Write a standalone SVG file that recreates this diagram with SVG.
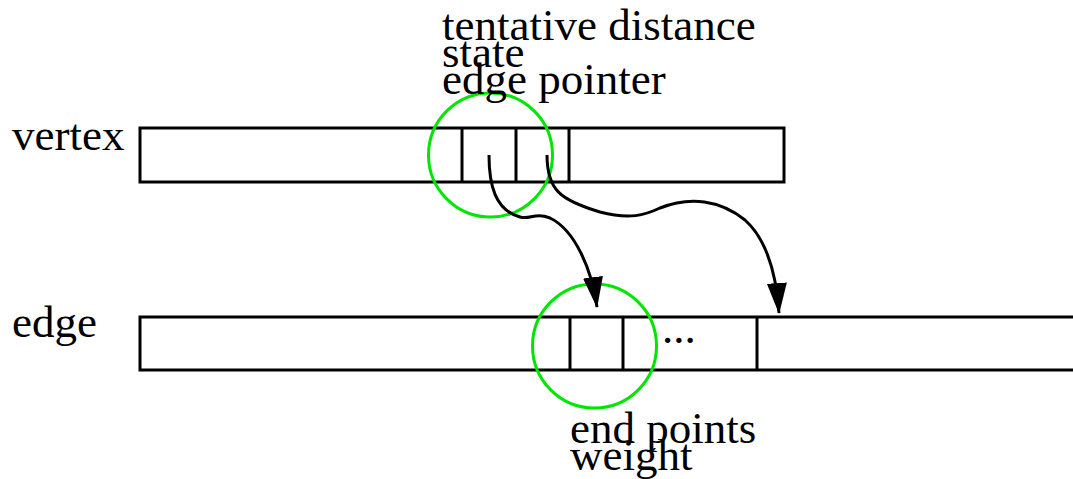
<svg xmlns="http://www.w3.org/2000/svg" width="1073" height="479" viewBox="0 0 1073 479">
<style>
.box{fill:none;stroke:#000;stroke-width:3}
.div{stroke:#000;stroke-width:3}
.ring{fill:none;stroke:#00e600;stroke-width:3}
.con{fill:none;stroke:#000;stroke-width:3}
text{font-family:"Liberation Serif","Times New Roman",serif;font-size:45px;fill:#000}
</style>
<defs>
<marker id="ah" markerWidth="31" markerHeight="20" refX="30" refY="10" orient="auto" markerUnits="userSpaceOnUse" viewBox="0 0 31 20">
<path d="M0,0 L31,10 L0,20 Z" fill="#000"/>
</marker>
</defs>
<rect width="1073" height="479" fill="#fff"/>
<g id="vertex">
<rect class="box" x="140" y="128" width="644" height="54"/>
<line class="div" x1="462" y1="128" x2="462" y2="182"/>
<line class="div" x1="516" y1="128" x2="516" y2="182"/>
<line class="div" x1="569" y1="128" x2="569" y2="182"/>
<text x="12" y="150">vertex</text>
</g>
<g id="edge">
<rect class="box" x="140" y="317" width="940" height="53"/>
<line class="div" x1="570" y1="317" x2="570" y2="370"/>
<line class="div" x1="623" y1="317" x2="623" y2="370"/>
<line class="div" x1="757" y1="317" x2="757" y2="370"/>
<text x="662" y="343">...</text>
<text x="12" y="337">edge</text>
</g>
<g id="vertex-fields">
<circle class="ring" cx="490.5" cy="155" r="62"/>
<text x="442" y="40">tentative distance</text>
<text x="442" y="67">state</text>
<text x="442" y="94">edge pointer</text>
</g>
<g id="edge-fields">
<circle class="ring" cx="594.5" cy="346" r="62"/>
<text x="570" y="443">end points</text>
<text x="570" y="470">weight</text>
</g>
<g id="connectors">
<path class="con" marker-end="url(#ah)" d="M489,155 C489,185 495,210 520,217 C530,220 535,212 550,218 C575,230 592,270 597,307"/>
<path class="con" marker-end="url(#ah)" d="M547,155 C547,190 560,200 600,212 C630,220 645,215 660,208 C690,196 720,200 745,220 C765,238 776,270 779,313"/>
</g>
</svg>
